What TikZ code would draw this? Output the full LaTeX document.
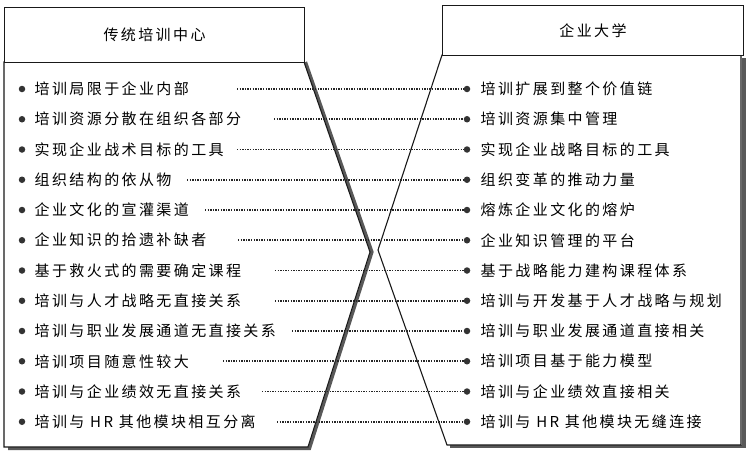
\documentclass[tikz,border=0pt]{standalone}
\usepackage{fontspec}
\newfontfamily\cjk{Noto Sans CJK SC}[LetterSpace=16]
\begin{document}
\begin{tikzpicture}[x=1pt,y=-1pt,
  itm/.style={font=\cjk\fontsize{15}{18}\selectfont, inner sep=0pt, anchor=west, text=black},
  hdr/.style={font=\cjk\fontsize{15}{18}\selectfont, inner sep=0pt, text=black},
  bul/.style={circle, fill=black!80, inner sep=0pt, minimum size=6.5pt},
  dotl/.style={line width=1.7pt, dash pattern=on 1.3pt off 1.3pt, black!85},
  edge/.style={line width=1.1pt, black!90},
  shadowl/.style={line width=3.2pt, black!65}]
\useasboundingbox (0,0) rectangle (754,455);
% shadows
\draw[shadowl, line join=miter] (8,448.5) -- (309.5,448.5) -- (372,252) -- (305.5,62);
\draw[shadowl] (744,58) -- (744,446.5) -- (450,446.5);
% panels
\draw[edge, fill=white] (4,62) -- (304,62) -- (370,252) -- (308,447) -- (4,447) -- cycle;
\draw[edge, fill=white] (442,55) -- (741,55) -- (741,445) -- (447,445) -- (378,250) -- cycle;
% headers
\node[draw=black!90, line width=1.1pt, fill=white, minimum width=300pt, minimum height=55pt, anchor=north west, inner sep=0pt] (hl) at (4,7) {};
\node[draw=black!90, line width=1.1pt, fill=white, minimum width=301pt, minimum height=50pt, anchor=north west, inner sep=0pt] (hr) at (442,5) {};
\node[hdr] (tl) at (hl.center) {传统培训中心};
\node[hdr] (tr) at (hr.center) {企业大学};
% items
\foreach \i/\lt/\rt/\sx in {
 1/{培训局限于企业内部}/{培训扩展到整个价值链}/237,
 2/{培训资源分散在组织各部分}/{培训资源集中管理}/274,
 3/{实现企业战术目标的工具}/{实现企业战略目标的工具}/237,
 4/{组织结构的依从物}/{组织变革的推动力量}/187,
 5/{企业文化的宣灌渠道}/{熔炼企业文化的熔炉}/205,
 6/{企业知识的拾遗补缺者}/{企业知识管理的平台}/238,
 7/{基于救火式的需要确定课程}/{基于战略能力建构课程体系}/275,
 8/{培训与人才战略无直接关系}/{培训与开发基于人才战略与规划}/275,
 9/{培训与职业发展通道无直接关系}/{培训与职业发展通道直接相关}/292,
 10/{培训项目随意性较大}/{培训项目基于能力模型}/223,
 11/{培训与企业绩效无直接关系}/{培训与企业绩效直接相关}/262,
 12/{培训与 HR 其他模块相互分离}/{培训与 HR 其他模块无缝连接}/277}{
  \pgfmathsetmacro{\yy}{89+(\i-1)*30.25}
  \node[bul] (lb\i) at (22,\yy) {};
  \node[itm] (L\i) at (34.5,\yy) {\lt};
  \node[bul] (rb\i) at (467,\yy) {};
  \node[itm] (R\i) at (480.5,\yy) {\rt};
  \coordinate (s\i) at (\sx,\yy);
  \draw[dotl] (s\i) -- (rb\i.west);
}
\end{tikzpicture}
\end{document}
